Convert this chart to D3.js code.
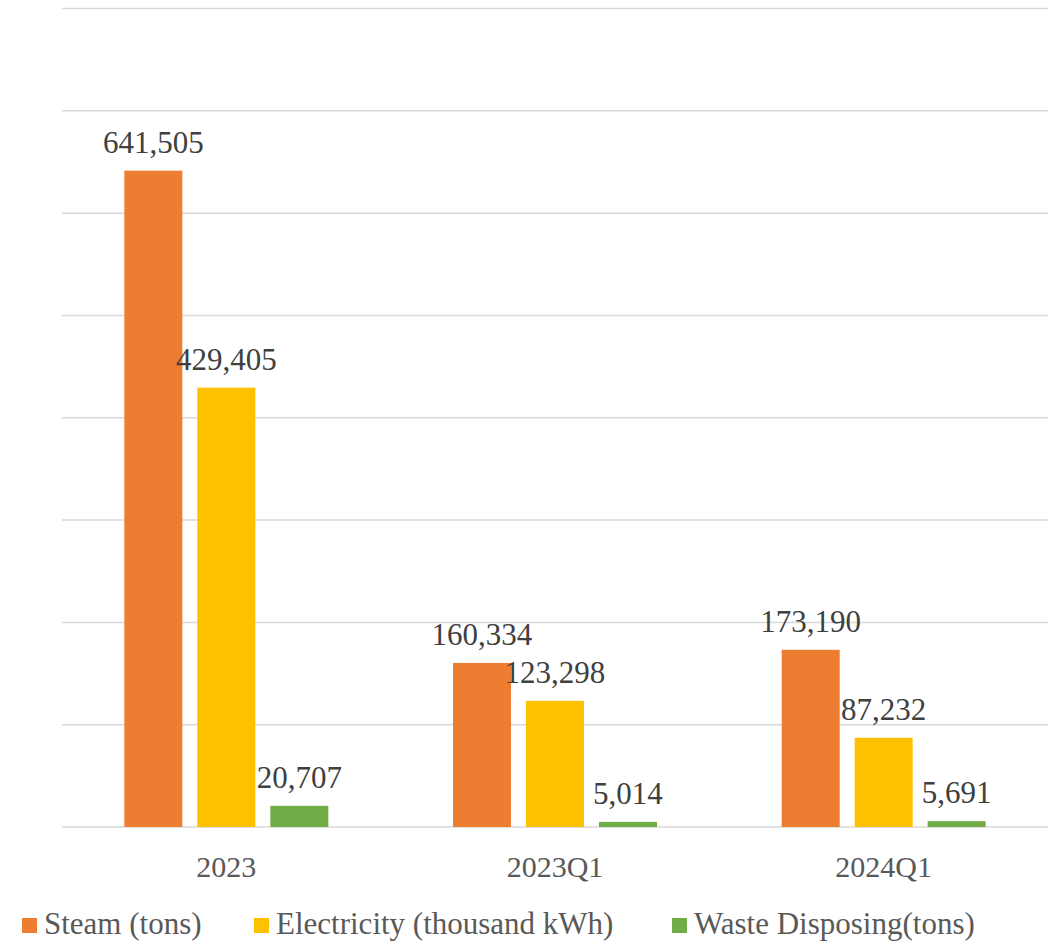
<!DOCTYPE html>
<html>

<head>
    <meta charset="UTF-8">
    <style>
        body { margin: 0; background: #fff; }
    </style>
    <title>Steam, Electricity and Waste</title>
</head>

<body>
    <svg></svg>
    <script src="https://d3js.org/d3.v7.min.js"></script>

    <script>
        let width = 1063, height = 943;

        // data
        const categories = ["2023", "2023Q1", "2024Q1"];
        const seriesNames = ["Steam (tons)", "Electricity (thousand kWh)", "Waste Disposing(tons)"];
        const steam = [641505, 160334, 173190];
        const electricity = [429405, 123298, 87232];
        const waste = [20707, 5014, 5691];
        const gridTicks = [0, 100000, 200000, 300000, 400000, 500000, 600000, 700000, 800000];

        const colors = ["#ed7d31", "#ffc000", "#70ad47"];
        const series = [steam, electricity, waste];
        const serif = "'Liberation Serif', 'Times New Roman', serif";

        let svg = d3.select("svg")
            .attr("width", width)
            .attr("height", height);

        // scales
        const x = d3.scaleBand()
            .domain(categories)
            .range([62, 1048]);

        // 3 bars of 58px with 15px gaps, centred in the band
        const xInner = d3.scaleBand()
            .domain(d3.range(series.length))
            .range([x.bandwidth() / 2 - 102, x.bandwidth() / 2 + 102])
            .paddingInner(15 / 73);

        const y = d3.scaleLinear()
            .domain([0, 800000])
            .range([827, 8.5]);

        // gridlines
        svg.append("g")
            .selectAll("line")
            .data(gridTicks)
            .enter()
            .append("line")
            .attr("x1", 62)
            .attr("x2", 1048)
            .attr("y1", d => y(d))
            .attr("y2", d => y(d))
            .style("stroke", "#d9d9d9")
            .style("stroke-width", 1.5);

        // bars
        let groups = svg.append("g")
            .selectAll("g")
            .data(categories)
            .enter()
            .append("g")
            .attr("transform", d => "translate(" + x(d) + ",0)");

        groups.selectAll("rect")
            .data((d, i) => series.map((s, j) => ({ j: j, v: s[i] })))
            .enter()
            .append("rect")
            .attr("x", d => xInner(d.j))
            .attr("width", xInner.bandwidth())
            .attr("y", d => y(d.v))
            .attr("height", d => y(0) - y(d.v))
            .attr("fill", d => colors[d.j]);

        // data labels
        groups.selectAll("text")
            .data((d, i) => series.map((s, j) => ({ j: j, v: s[i] })))
            .enter()
            .append("text")
            .attr("x", d => xInner(d.j) + xInner.bandwidth() / 2)
            .attr("y", d => y(d.v) - 18)
            .attr("text-anchor", "middle")
            .style("font-family", serif)
            .style("font-size", "31px")
            .style("fill", "#404040")
            .text(d => d3.format(",")(d.v));

        // category labels
        svg.append("g")
            .selectAll("text")
            .data(categories)
            .enter()
            .append("text")
            .attr("x", d => x(d) + x.bandwidth() / 2)
            .attr("y", 877)
            .attr("text-anchor", "middle")
            .style("font-family", serif)
            .style("font-size", "30px")
            .style("fill", "#595959")
            .text(d => d);

        // legend
        const legendX = [22, 254, 672];
        let legend = svg.append("g")
            .selectAll("g")
            .data(seriesNames)
            .enter()
            .append("g")
            .attr("transform", (d, i) => "translate(" + legendX[i] + ",0)");

        legend.append("rect")
            .attr("x", 0)
            .attr("y", 918)
            .attr("width", 15)
            .attr("height", 15)
            .attr("fill", (d, i) => colors[i]);

        legend.append("text")
            .attr("x", 22)
            .attr("y", 934)
            .style("font-family", serif)
            .style("font-size", "31px")
            .style("fill", "#595959")
            .text(d => d);
    </script>
</body>

</html>
